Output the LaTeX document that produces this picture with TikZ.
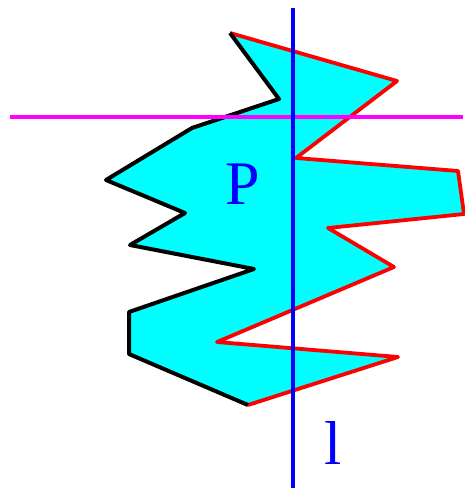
\documentclass[tikz,border=0pt]{standalone}
\usepackage{fontspec}
\setmainfont{Liberation Serif}
\definecolor{fillcyan}{RGB}{0,255,255}
\definecolor{linemagenta}{RGB}{255,0,255}
\definecolor{linered}{RGB}{255,0,0}
\definecolor{lineblue}{RGB}{0,0,255}
\begin{document}
\begin{tikzpicture}[x=1pt,y=-1pt,
  edgeblack/.style={draw=black,line width=4pt,line join=round},
  edgered/.style={draw=linered,line width=3.8pt,line join=round},
  axisline/.style={line width=3.5pt},
  bigtext/.style={text=lineblue,font=\fontsize{62}{62}\selectfont,inner sep=0pt}]
\useasboundingbox (0,0) rectangle (465,490);
% vertices
\coordinate (a) at (230,33);
\coordinate (b) at (397,81);
\coordinate (c) at (296,158);
\coordinate (d) at (458,171);
\coordinate (e) at (464,214);
\coordinate (f) at (328,228);
\coordinate (g) at (394,267);
\coordinate (h) at (217,342);
\coordinate (i) at (398,357);
\coordinate (j) at (248,405);
\coordinate (k) at (129,354);
\coordinate (m) at (129,312);
\coordinate (n) at (254,269);
\coordinate (o) at (130,245);
\coordinate (p) at (185,213);
\coordinate (q) at (106,180);
\coordinate (r) at (192,128);
\coordinate (s) at (279,99);
% fill
\fill[fillcyan] (a) -- (b) -- (c) -- (d) -- (e) -- (f) -- (g) -- (h) -- (i) -- (j)
  -- (k) -- (m) -- (n) -- (o) -- (p) -- (q) -- (r) -- (s) -- cycle;
% edges
\draw[edgered] (a) -- (b) -- (c) -- (d) -- (e) -- (f) -- (g) -- (h) -- (i) -- (j);
\draw[edgeblack] (j) -- (k) -- (m) -- (n) -- (o) -- (p) -- (q) -- (r) -- (s) -- (a);
% lines
\coordinate (hl) at (10,117);
\coordinate (hr) at (463,117);
\coordinate (vt) at (293,8);
\coordinate (vb) at (293,488);
\draw[axisline,linemagenta] (hl) -- (hr);
\draw[axisline,lineblue] (vt) -- (vb);
% labels
\node[bigtext] (P) at (243,184) {P};
\node[bigtext] (l) at (333,443) {l};
\end{tikzpicture}
\end{document}
